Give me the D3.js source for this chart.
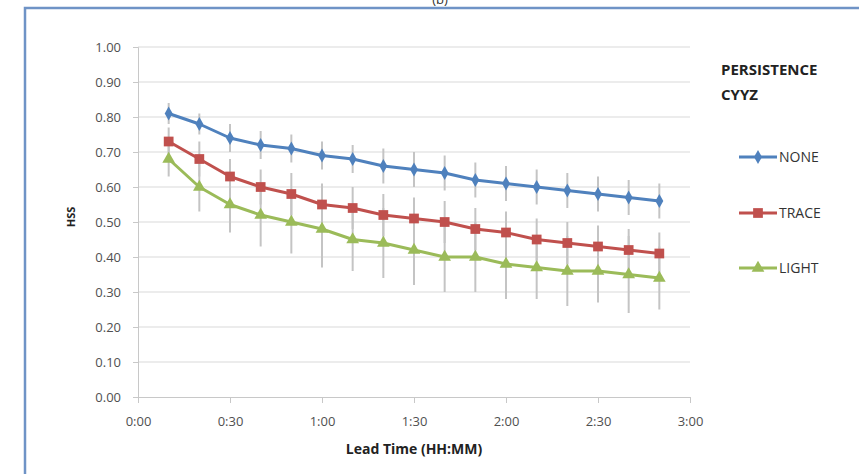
<!DOCTYPE html>
<html>
<head>
<meta charset="utf-8">
<script src="https://cdn.jsdelivr.net/npm/d3@7"></script>
<style>
  body { margin: 0; background: #fff; }
  svg { display: block; font-family: "Open Sans", "Liberation Sans", Arial, sans-serif; }
</style>
</head>
<body>
<div id="chart"></div>
<script>
// lead time in minutes
const leadMinutes = [10, 20, 30, 40, 50, 60, 70, 80, 90, 100, 110, 120, 130, 140, 150, 160, 170];

const noneValues  = [0.81, 0.78, 0.74, 0.72, 0.71, 0.69, 0.68, 0.66, 0.65, 0.64, 0.62, 0.61, 0.60, 0.59, 0.58, 0.57, 0.56];
const traceValues = [0.73, 0.68, 0.63, 0.60, 0.58, 0.55, 0.54, 0.52, 0.51, 0.50, 0.48, 0.47, 0.45, 0.44, 0.43, 0.42, 0.41];
const lightValues = [0.68, 0.60, 0.55, 0.52, 0.50, 0.48, 0.45, 0.44, 0.42, 0.40, 0.40, 0.38, 0.37, 0.36, 0.36, 0.35, 0.34];

// error bar half-widths
const noneErr  = [0.03, 0.03, 0.04, 0.04, 0.04, 0.04, 0.04, 0.05, 0.05, 0.05, 0.05, 0.05, 0.05, 0.05, 0.05, 0.05, 0.05];
const traceErr = [0.04, 0.05, 0.05, 0.05, 0.06, 0.06, 0.06, 0.06, 0.06, 0.06, 0.06, 0.06, 0.06, 0.06, 0.06, 0.06, 0.06];
const lightErr = [0.05, 0.07, 0.08, 0.09, 0.09, 0.11, 0.09, 0.10, 0.10, 0.10, 0.10, 0.10, 0.09, 0.10, 0.09, 0.11, 0.09];

const xTicks = [0, 30, 60, 90, 120, 150, 180];
const yTicks = [0, 0.1, 0.2, 0.3, 0.4, 0.5, 0.6, 0.7, 0.8, 0.9, 1.0];

const seriesNames = ['NONE', 'TRACE', 'LIGHT'];
const seriesColors = ['#4F81BD', '#C0504D', '#9BBB59'];

const width = 859, height = 474;
const svg = d3.select('#chart').append('svg')
    .attr('width', width)
    .attr('height', height);

// outer frame of the figure
svg.append('rect')
    .attr('x', 25).attr('y', 8)
    .attr('width', 850).attr('height', 480)
    .attr('fill', 'none')
    .attr('stroke', '#6f93c6')
    .attr('stroke-width', 2.5);

svg.append('text')
    .attr('x', 440).attr('y', 4)
    .attr('text-anchor', 'middle')
    .attr('font-size', '13px')
    .attr('fill', '#333')
    .text('(b)');

const x = d3.scaleLinear().domain([0, 180]).range([138, 690]);
const y = d3.scaleLinear().domain([0, 1]).range([397, 47]);

// gridlines
svg.append('g').selectAll('line')
    .data(yTicks.filter(d => d > 0))
    .enter().append('line')
    .attr('x1', x(0)).attr('x2', x(180))
    .attr('y1', d => y(d)).attr('y2', d => y(d))
    .attr('stroke', '#d9d9d9')
    .attr('stroke-width', 1);

// y axis
const yAxis = svg.append('g')
    .attr('transform', `translate(${x(0)},0)`)
    .call(d3.axisLeft(y).tickValues(yTicks).tickFormat(d3.format('.2f')).tickSize(5).tickPadding(12));
yAxis.select('.domain').attr('stroke', '#c8c8c8');
yAxis.selectAll('.tick line').attr('stroke', '#c8c8c8');
yAxis.selectAll('.tick text')
    .attr('font-size', '13px')
    .attr('fill', '#505050')
    .attr('font-family', '"Open Sans", "Liberation Sans", Arial, sans-serif');

// x axis
const fmtTime = m => `${Math.floor(m / 60)}:${String(m % 60).padStart(2, '0')}`;
const xAxis = svg.append('g')
    .attr('transform', `translate(0,${y(0)})`)
    .call(d3.axisBottom(x).tickValues(xTicks).tickFormat(fmtTime).tickSize(6).tickPadding(14));
xAxis.select('.domain').attr('stroke', '#c8c8c8');
xAxis.selectAll('.tick line').attr('stroke', '#c8c8c8');
xAxis.selectAll('.tick text')
    .attr('font-size', '13px')
    .attr('fill', '#505050')
    .attr('font-family', '"Open Sans", "Liberation Sans", Arial, sans-serif');

// axis titles
svg.append('text')
    .attr('x', 414).attr('y', 454)
    .attr('text-anchor', 'middle')
    .attr('font-size', '14px')
    .attr('font-weight', 'bold')
    .attr('fill', '#222')
    .text('Lead Time (HH:MM)');

svg.append('text')
    .attr('transform', 'translate(75,217) rotate(-90)')
    .attr('text-anchor', 'middle')
    .attr('font-size', '11px')
    .attr('font-weight', 'bold')
    .attr('fill', '#222')
    .text('HSS');

const series = [
    { name: 'NONE', values: noneValues, err: noneErr, shape: d3.symbolDiamond, size: 55 },
    { name: 'TRACE', values: traceValues, err: traceErr, shape: d3.symbolSquare, size: 95 },
    { name: 'LIGHT', values: lightValues, err: lightErr, shape: d3.symbolTriangle, size: 70 }
];

// error bars (drawn under the lines)
const errG = svg.append('g');
series.forEach(s => {
    errG.selectAll(null)
        .data(leadMinutes)
        .enter().append('line')
        .attr('x1', d => x(d)).attr('x2', d => x(d))
        .attr('y1', (d, i) => y(s.values[i] + s.err[i]))
        .attr('y2', (d, i) => y(s.values[i] - s.err[i]))
        .attr('stroke', '#c4c4c4')
        .attr('stroke-width', 2);
});

const line = d3.line()
    .x((d, i) => x(leadMinutes[i]))
    .y(d => y(d));

series.forEach((s, si) => {
    const color = seriesColors[si];
    svg.append('path')
        .datum(s.values)
        .attr('d', line)
        .attr('fill', 'none')
        .attr('stroke', color)
        .attr('stroke-width', 3)
        .attr('stroke-linejoin', 'round');

    svg.append('g').selectAll('path')
        .data(s.values)
        .enter().append('path')
        .attr('transform', (d, i) => `translate(${x(leadMinutes[i])},${y(d)})`)
        .attr('d', d3.symbol().type(s.shape).size(s.size))
        .attr('fill', color);
});

// legend
svg.append('text')
    .attr('x', 721).attr('y', 75)
    .attr('font-size', '15px')
    .attr('font-weight', 'bold')
    .attr('fill', '#222')
    .text('PERSISTENCE');
svg.append('text')
    .attr('x', 721).attr('y', 100)
    .attr('font-size', '15px')
    .attr('font-weight', 'bold')
    .attr('fill', '#222')
    .text('CYYZ');

const legendY = [157, 213, 268];
series.forEach((s, si) => {
    const g = svg.append('g').attr('transform', `translate(0,${legendY[si]})`);
    g.append('line')
        .attr('x1', 739).attr('x2', 777)
        .attr('y1', 0).attr('y2', 0)
        .attr('stroke', seriesColors[si])
        .attr('stroke-width', 3);
    g.append('path')
        .attr('transform', 'translate(758,0)')
        .attr('d', d3.symbol().type(s.shape).size(s.size))
        .attr('fill', seriesColors[si]);
    g.append('text')
        .attr('x', 779).attr('y', 5)
        .attr('font-size', '14px')
        .attr('fill', '#333')
        .text(seriesNames[si]);
});
</script>
</body>
</html>
